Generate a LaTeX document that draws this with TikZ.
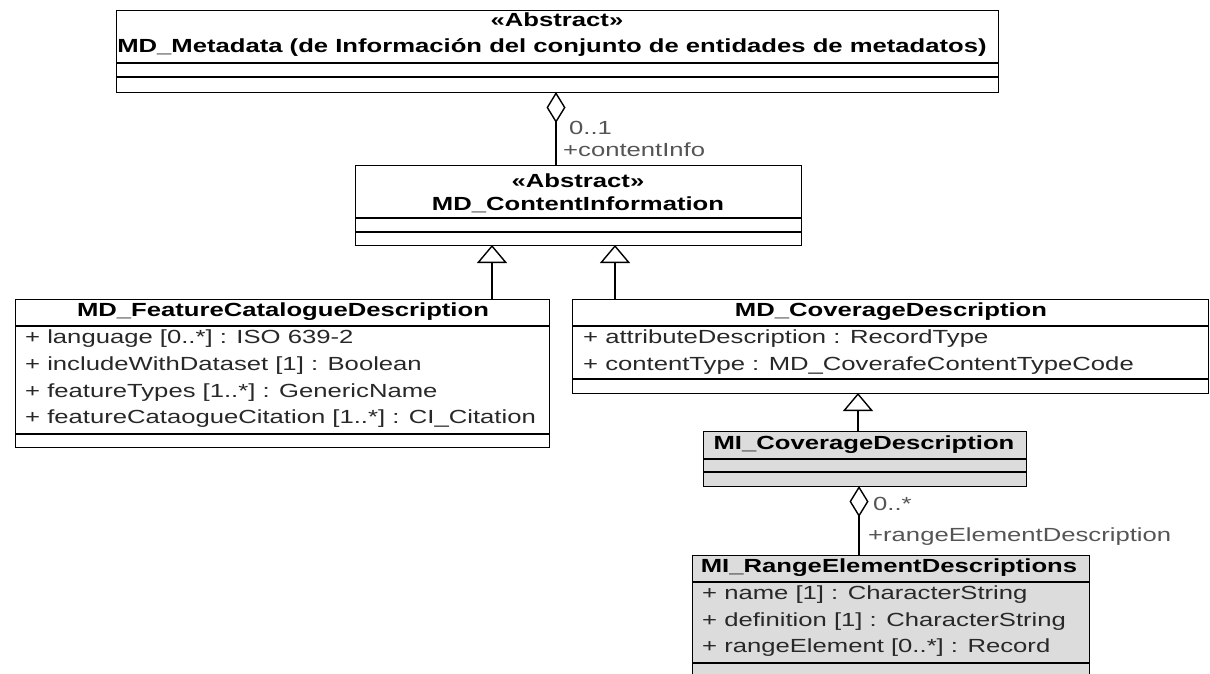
\documentclass[tikz,border=0pt]{standalone}
\usepackage{fontspec}
\setmainfont{Liberation Sans}[FakeStretch=1.35]
\usetikzlibrary{arrows.meta}
\definecolor{migray}{RGB}{220,220,220}
\definecolor{rolegray}{RGB}{85,85,85}
\definecolor{attrgray}{RGB}{40,40,40}
\tikzset{
  classbox/.style={draw, line width=1.4pt, anchor=north west, inner sep=0pt},
  ctitle/.style={inner sep=0pt, font=\fontsize{19}{22}\selectfont\bfseries},
  cattr/.style={anchor=west, inner sep=0pt, text=attrgray, font=\fontsize{19}{22}\selectfont},
  crole/.style={anchor=west, inner sep=0pt, text=rolegray, font=\fontsize{19}{22}\selectfont},
  gen/.style={-{Triangle[open, length=18pt, width=30pt]}, line width=1.4pt},
  agg/.style={-{Diamond[open, length=31pt, width=19pt]}, line width=1.4pt}
}
\begin{document}
\begin{tikzpicture}[x=1pt, y=-1pt]
\clip (0,0) rectangle (1210,673);
\fill[white] (0,0) rectangle (1210,673);
% classes
\node[classbox, minimum width=882pt, minimum height=82pt] (meta) at (116,10) {};
\node[classbox, minimum width=446pt, minimum height=80pt] (cinfo) at (355,165) {};
\node[classbox, minimum width=534pt, minimum height=148pt] (feat) at (15,299) {};
\node[classbox, minimum width=636pt, minimum height=94pt] (cov) at (572,299) {};
\node[classbox, fill=migray, minimum width=323pt, minimum height=55pt] (micov) at (703,431) {};
\node[classbox, fill=migray, minimum width=397pt, minimum height=130pt] (range) at (692,555) {};
% compartments
\foreach \y in {63,77} \draw[line width=1.4pt] (meta.west |- 0,\y) -- (meta.east |- 0,\y);
\foreach \y in {218,232} \draw[line width=1.4pt] (cinfo.west |- 0,\y) -- (cinfo.east |- 0,\y);
\foreach \y in {326,434} \draw[line width=1.4pt] (feat.west |- 0,\y) -- (feat.east |- 0,\y);
\foreach \y in {326,379} \draw[line width=1.4pt] (cov.west |- 0,\y) -- (cov.east |- 0,\y);
\foreach \y in {459,472} \draw[line width=1.4pt] (micov.west |- 0,\y) -- (micov.east |- 0,\y);
\foreach \y in {582,663} \draw[line width=1.4pt] (range.west |- 0,\y) -- (range.east |- 0,\y);
% titles
\node[ctitle] (metaster) at (557,20) {«Abstract»};
\node[ctitle] (metaname) at (552,47) {MD\_Metadata (de Información del conjunto de entidades de metadatos)};
\node[ctitle] (cinfoster) at (578,181) {«Abstract»};
\node[ctitle] (cinfoname) at (578,205) {MD\_ContentInformation};
\node[ctitle] (featname) at (283,312) {MD\_FeatureCatalogueDescription};
\node[ctitle] (covname) at (891,312) {MD\_CoverageDescription};
\node[ctitle] (micovname) at (864,445) {MI\_CoverageDescription};
\node[ctitle] (rangename) at (889,568) {MI\_RangeElementDescriptions};
% attributes
\node[cattr] (feat1) at (25,339) {+ language [0..*] : ISO 639-2};
\node[cattr] (feat2) at (25,366) {+ includeWithDataset [1] : Boolean};
\node[cattr] (feat3) at (25,393) {+ featureTypes [1..*] : GenericName};
\node[cattr] (feat4) at (25,419) {+ featureCataogueCitation [1..*] : CI\_Citation};
\node[cattr] (cov1) at (583,339) {+ attributeDescription : RecordType};
\node[cattr] (cov2) at (583,366) {+ contentType : MD\_CoverafeContentTypeCode};
\node[cattr] (range1) at (702,595) {+ name [1] : CharacterString};
\node[cattr] (range2) at (702,622) {+ definition [1] : CharacterString};
\node[cattr] (range3) at (702,648) {+ rangeElement [0..*] : Record};
% connectors
\coordinate (agg1) at (556,92);
\coordinate (agg2) at (859,486);
\coordinate (g1) at (492,245);
\coordinate (g2) at (615,245);
\coordinate (g3) at (858,393);
\draw[agg] (cinfo.north -| agg1) -- (agg1);
\draw[agg] (range.north -| agg2) -- (agg2);
\draw[gen] (feat.north -| g1) -- (g1);
\draw[gen] (cov.north -| g2) -- (g2);
\draw[gen] (micov.north -| g3) -- (g3);
% roles
\node[crole] (mult1) at (569,128) {0..1};
\node[crole] (role1) at (563,150) {+contentInfo};
\node[crole] (mult2) at (873,504) {0..*};
\node[crole] (role2) at (868,537) {+rangeElementDescription};
\end{tikzpicture}
\end{document}
